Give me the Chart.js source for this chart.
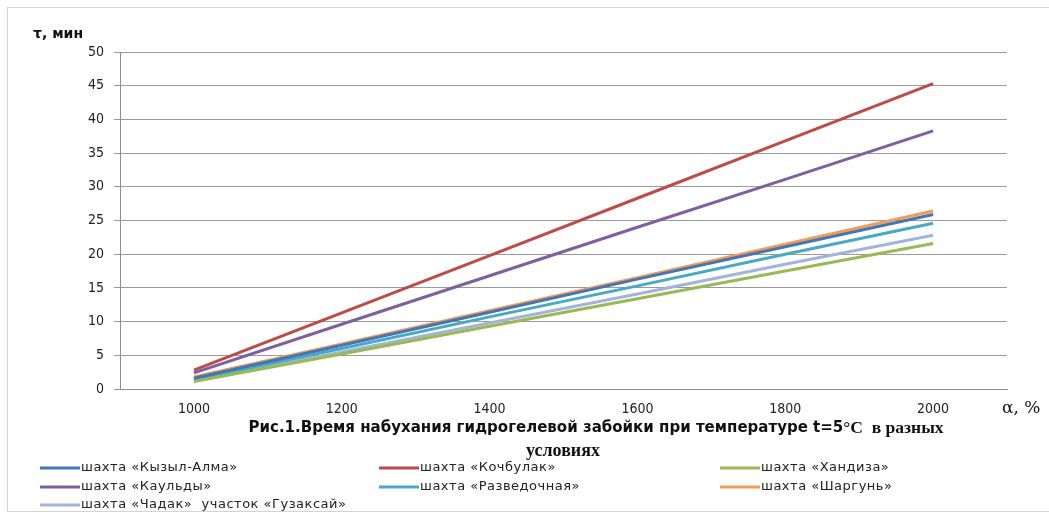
<!DOCTYPE html>
<html>
<head>
<meta charset="utf-8">
<script src="https://cdn.jsdelivr.net/npm/chart.js@4/dist/chart.umd.min.js"></script>
<style>
  html, body { margin: 0; padding: 0; background: #fff; }
  #wrap { position: relative; width: 1049px; height: 515px; }
</style>
</head>
<body>
<div id="wrap"><canvas id="swellChart" width="1049" height="515"></canvas></div>
<script>
const categories = ["1000", "1200", "1400", "1600", "1800", "2000"];
const yTicks = [0, 5, 10, 15, 20, 25, 30, 35, 40, 45, 50];

const seriesNames = [
    "шахта «Кызыл-Алма»",
    "шахта «Кочбулак»",
    "шахта «Хандиза»",
    "шахта «Каульды»",
    "шахта «Разведочная»",
    "шахта «Шаргунь»",
    "шахта «Чадак»  участок «Гузаксай»"
];

const kyzylAlma   = [1.6, 6.5, 11.4, 16.3, 21.1, 25.9];
const kochbulak   = [2.8, 11.3, 19.8, 28.3, 36.8, 45.3];
const khandiza    = [1.1, 5.2, 9.3, 13.4, 17.5, 21.6];
const kauldy      = [2.4, 9.6, 16.8, 24.0, 31.1, 38.3];
const razvedochna = [1.4, 6.0, 10.7, 15.3, 20.0, 24.6];
const shargun     = [1.8, 6.7, 11.6, 16.5, 21.5, 26.4];
const chadak      = [1.2, 5.5, 9.8, 14.1, 18.5, 22.8];

const seriesValues = [kyzylAlma, kochbulak, khandiza, kauldy, razvedochna, shargun, chadak];
const seriesColors = ["#4276B6", "#BE4B48", "#98B954", "#7D60A0", "#46AAC5", "#F59A52", "#A3B4DA"];

// legend grid: three columns, filled row by row
const legendCols = [40, 379, 720];
const legendRows = [468, 487, 505];

const extrasPlugin = {
    id: "extras",
    afterDraw(chart) {
        const ctx = chart.ctx;
        ctx.save();

        // outer frame
        ctx.strokeStyle = "#d4d4d4";
        ctx.lineWidth = 1;
        ctx.strokeRect(7.5, 7.5, 1060, 504);

        // axis titles
        ctx.fillStyle = "#111";
        ctx.textBaseline = "middle";
        ctx.textAlign = "left";
        ctx.font = "bold 14px 'DejaVu Sans', sans-serif";
        ctx.fillText("τ, мин", 33, 34);
        ctx.font = "17px 'DejaVu Serif', serif";
        ctx.fillText("α, %", 1002, 409);

        // caption
        const p1 = "Рис.1.Время набухания гидрогелевой забойки при температуре t=5";
        const p2 = "°C  в разных";
        const sansFont = "bold 16.7px 'DejaVu Sans Condensed', sans-serif";
        const serifFont = "bold 17.5px 'Liberation Serif', serif";
        ctx.font = sansFont;
        const w1 = ctx.measureText(p1).width;
        ctx.font = serifFont;
        const w2 = ctx.measureText(p2).width;
        const x0 = 596 - (w1 + w2) / 2;
        ctx.font = sansFont;
        ctx.fillText(p1, x0, 428);
        ctx.font = serifFont;
        ctx.fillText(p2, x0 + w1, 428);
        ctx.font = "bold 18px 'Liberation Serif', serif";
        ctx.textAlign = "center";
        ctx.fillText("условиях", 563, 451);

        // legend
        ctx.textAlign = "left";
        ctx.font = "13px 'DejaVu Sans', sans-serif";
        ctx.letterSpacing = "0.5px";
        chart.data.datasets.forEach((ds, i) => {
            const x = legendCols[i % 3];
            const y = legendRows[Math.floor(i / 3)];
            ctx.strokeStyle = ds.borderColor;
            ctx.lineWidth = 3;
            ctx.beginPath();
            ctx.moveTo(x, y);
            ctx.lineTo(x + 40, y);
            ctx.stroke();
            ctx.fillStyle = "#222";
            ctx.fillText(ds.label, x + 41, y);
        });

        ctx.restore();
    }
};

new Chart(document.getElementById("swellChart"), {
    type: "line",
    data: {
        labels: categories,
        datasets: seriesNames.map((name, i) => ({
            label: name,
            data: seriesValues[i],
            borderColor: seriesColors[i],
            backgroundColor: seriesColors[i],
            borderWidth: 3,
            pointRadius: 0,
            tension: 0,
            fill: false
        }))
    },
    options: {
        responsive: false,
        animation: false,
        layout: { padding: { left: 8, right: 42, top: 52, bottom: 96 } },
        plugins: {
            legend: { display: false },
            tooltip: { enabled: false }
        },
        scales: {
            x: {
                type: "category",
                offset: true,
                grid: { display: false, drawTicks: false },
                border: { display: true, color: "#8c8c8c", width: 1 },
                ticks: {
                    color: "#222",
                    font: { size: 14, family: "'DejaVu Sans Condensed', sans-serif" },
                    padding: 12,
                    maxRotation: 0
                },
                afterFit(scale) { scale.height = 30; }
            },
            y: {
                min: 0,
                max: 50,
                afterBuildTicks(scale) { scale.ticks = yTicks.map(v => ({ value: v })); },
                grid: { color: "#9a9a9a", lineWidth: 1, tickLength: 6 },
                border: { display: true, color: "#8c8c8c", width: 1 },
                ticks: {
                    color: "#222",
                    font: { size: 14, family: "'DejaVu Sans Condensed', sans-serif" },
                    padding: 10
                },
                afterFit(scale) { scale.width = 112; }
            }
        }
    },
    plugins: [extrasPlugin]
});
</script>
</body>
</html>
